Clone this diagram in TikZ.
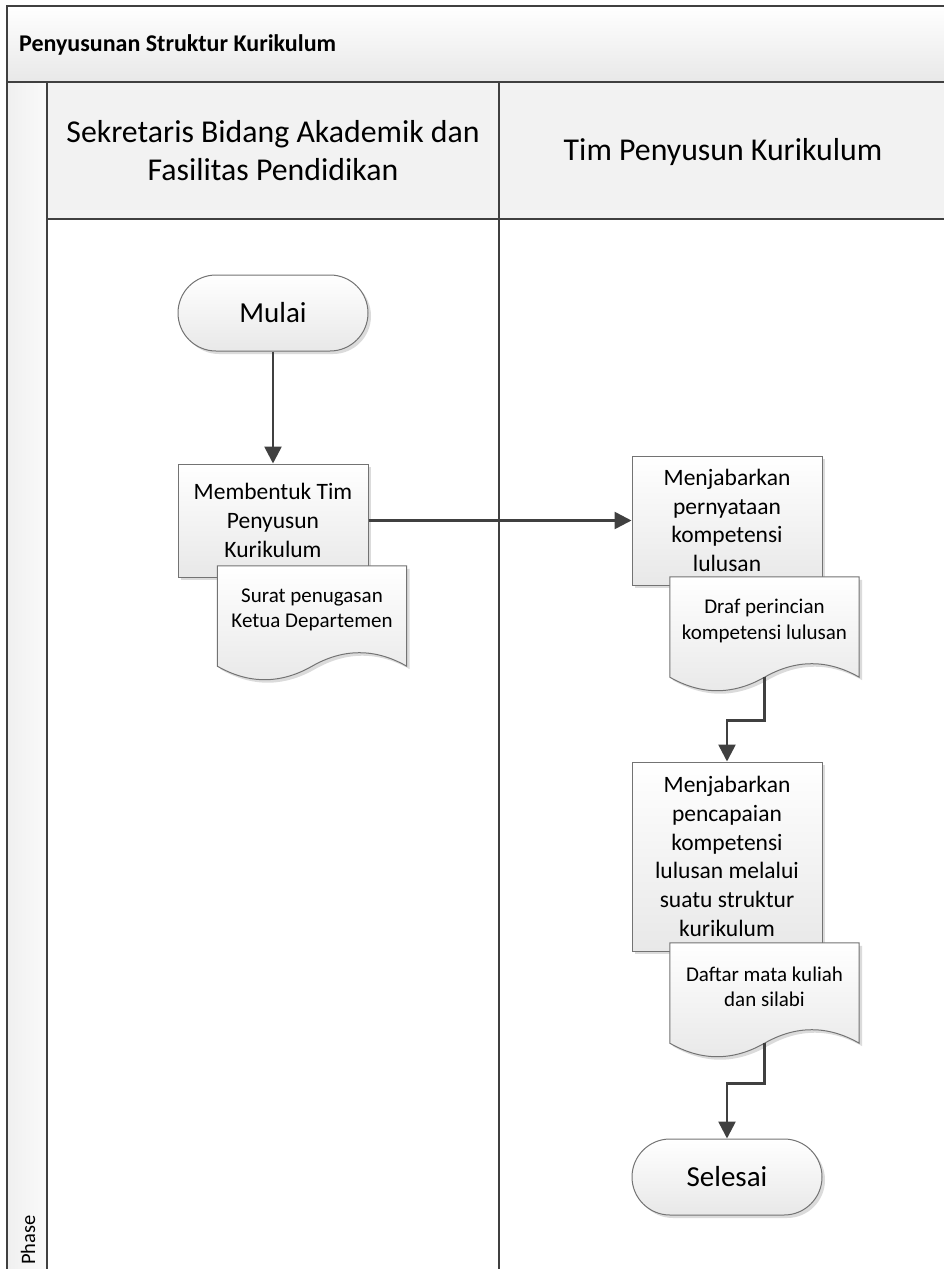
\documentclass[tikz,border=0pt]{standalone}
\usepackage{fontspec}
\setmainfont{Carlito}
\usetikzlibrary{arrows.meta, positioning, shadows}

% document outline with wavy bottom, hung on a (text-less) node
\newcommand{\docshape}[1]{%
	\path[docline] (#1.north west) -- (#1.north east) -- ([yshift=-12pt]#1.south east)
	.. controls +(-31.5,-18) and +(31.5,-18) .. ([yshift=-12pt]#1.south)
	.. controls +(-31.5,18) and +(31.5,18) .. ([yshift=-12pt]#1.south west) -- cycle;}

\begin{document}
\begin{tikzpicture}[x=1pt, y=-1pt, >={Triangle[length=17pt, width=17pt]}, line join=miter,
	every node/.style={inner sep=0pt},
	lane/.style={draw=black!75, line width=2pt},
	shade/.style={drop shadow={shadow xshift=3pt, shadow yshift=-3pt, fill=black!35, opacity=0.4}},
	box/.style={draw=black!55, line width=1pt, top color=white, bottom color=black!9, shade,
		minimum width=190pt, align=center, font=\fontsize{23.5}{28.8}\selectfont},
	term/.style={box, minimum height=76pt, rounded corners=38pt, font=\fontsize{29}{35}\selectfont},
	doc/.style={minimum width=189pt, minimum height=88pt},
	docline/.style={draw=black!55, line width=1pt, top color=white, bottom color=black!9, shade},
	doctext/.style={align=center, font=\fontsize{21}{25.5}\selectfont},
	lanehead/.style={align=center, font=\fontsize{31.8}{38}\selectfont},
	flow/.style={->, draw=black!75, line width=2.6pt}]
	
	\useasboundingbox (0,0) rectangle (944,1269);
	
	%========================
	% pool and lanes
	%========================
	\fill[top color=white, bottom color=black!9] (7,6) rectangle (950,82);
	\fill[left color=black!6, right color=black!2] (7,82) rectangle (47,1280);
	\fill[black!5] (47,82) rectangle (950,219);
	\draw[lane] (7,6) rectangle (950,1280);
	\draw[lane] (7,82) -- (950,82);
	\draw[lane] (47,82) -- (47,1280);
	\draw[lane] (47,219) -- (950,219);
	\draw[lane] (499,82) -- (499,1280);
	
	\node[anchor=west, font=\bfseries\fontsize{24}{29}\selectfont] (title) at (19,45) {Penyusunan Struktur Kurikulum};
	\node[lanehead] (lane1) at (273,151) {Sekretaris Bidang Akademik dan\\Fasilitas Pendidikan};
	\node[lanehead] (lane2) at (723,152) {Tim Penyusun Kurikulum};
	\node[rotate=90, font=\fontsize{20.5}{24}\selectfont] (phase) at (28,1240) {Phase};
	
	%========================
	% left lane
	%========================
	\node[term] (start) at (273,313) {Mulai};
	\node[box, minimum height=113pt] (b1) at (273,520.5) {Membentuk Tim\\Penyusun\\Kurikulum};
	\node[doc] (d1) at (312,610) {};
	\docshape{d1}
	\node[doctext] (d1t) at (d1) {Surat penugasan\\Ketua Departemen};
	
	%========================
	% right lane
	%========================
	\node[box, minimum height=129pt] (b2) at (727,520.5) {Menjabarkan\\pernyataan\\kompetensi\\lulusan};
	\node[doc] (d2) at (764.5,621) {};
	\docshape{d2}
	\node[doctext] (d2t) at (d2) {Draf perincian\\kompetensi lulusan};
	
	\node[box, minimum height=189pt] (b3) at (727,856.5) {Menjabarkan\\pencapaian\\kompetensi\\lulusan melalui\\suatu struktur\\kurikulum};
	\node[doc] (d3) at (764.5,987) {};
	\docshape{d3}
	\node[doctext] (d3t) at (d3) {Daftar mata kuliah\\dan silabi};
	
	\node[term] (stop) at (727,1177) {Selesai};
	
	% connectors
	\draw[flow] (start) -- (b1);
	\draw[flow] (b1) -- (b2);
	\draw[flow] ([yshift=-12pt]d2.south) -- ++(0,43) -| (b3.north);
	\draw[flow] ([yshift=-12pt]d3.south) -- ++(0,40) -| (stop.north);
	
\end{tikzpicture}
\end{document}
